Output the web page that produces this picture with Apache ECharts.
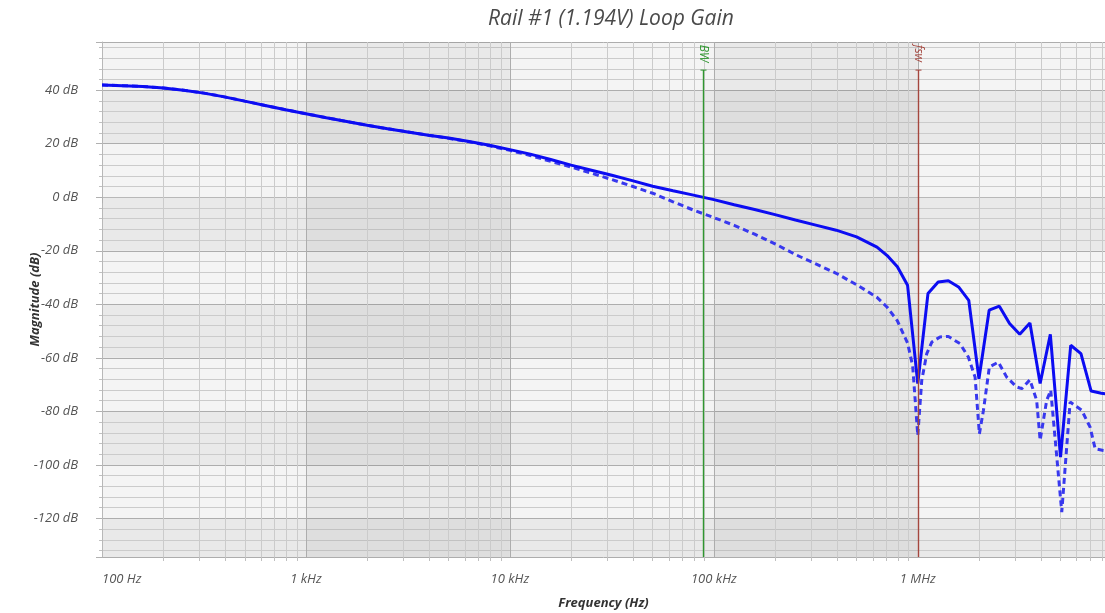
<!DOCTYPE html>
<html><head><meta charset="utf-8">
<script src="https://cdn.jsdelivr.net/npm/echarts@6/dist/echarts.min.js"></script>
<style>html,body{margin:0;padding:0;background:#fff}#c{width:1105px;height:613px}</style>
</head><body><div id="c"></div>
<script>
const chartTitle = 'Rail #1 (1.194V) Loop Gain';
const xAxisName = 'Frequency (Hz)';
const yAxisName = 'Magnitude (dB)';
const freqMin = 100, freqMax = 8280000;
const dbMin = -134.4, dbMax = 58;
const xTickLabels = {100: '100 Hz', 1000: '1 kHz', 10000: '10 kHz', 100000: '100 kHz', 1000000: '1 MHz'};

// Solid trace (loop gain)
const loopFreqs = [
  100,126,158,200,251,316,398,501,631,794,
  1000,1259,1585,1995,2512,3162,3981,5012,6310,7943,
  10000,12589,15849,19953,25119,31623,39811,50119,63096,79433,
  100000,125893,158489,199526,251189,316228,398107,501187,630957,707946,794328,891251,
  1000000,1122018,1258925,1412538,1584893,1778279,1995262,2238721,2511886,2818383,
  3162278,3548134,3981072,4466836,5011872,5623413,6309573,7079458,7943282,8912509
];
const loopGainDb = [
  41.9,41.7,41.4,40.8,40.0,38.9,37.5,35.9,34.3,32.7,
  31.2,29.7,28.3,26.9,25.6,24.4,23.2,22.1,20.8,19.4,
  17.8,16.1,14.1,12.0,10.1,8.2,6.2,4.1,2.4,0.8,
  -0.9,-2.8,-4.6,-6.5,-8.5,-10.4,-12.3,-14.8,-18.6,-21.8,-26.0,-32.9,
  -69.6,-36.0,-31.7,-31.2,-33.5,-38.5,-67.8,-42.2,-40.7,-47.2,
  -51.2,-47.0,-69.6,-51.2,-97.1,-55.3,-58.4,-72.4,-73.2,-73.8
];

// Dashed trace
const dashFreqs = [
  100,126,158,200,251,316,398,501,631,794,
  1000,1259,1585,1995,2512,3162,3981,5012,6310,7943,
  10000,12589,15849,19953,25119,31623,39811,50119,63096,79433,
  100000,125893,158489,199526,251189,316228,398107,501187,
  562341,630957,707946,794328,891251,944000,1000000,
  1046000,1107000,1172000,1285000,1413000,1611000,1770000,1910000,2005000,2099000,
  2244000,2483000,2729000,3055000,3236000,3548000,3828000,3981000,4285000,4487000,
  5082000,5585000,6368000,6998000,7413000,8128000,8913000
];
const dashDb = [
  41.9,41.7,41.4,40.8,40.0,38.9,37.5,35.9,34.3,32.7,
  31.2,29.7,28.3,26.9,25.6,24.4,23.2,22.0,20.7,19.2,
  17.5,15.6,13.4,11.3,9.0,6.6,4.1,1.5,-1.7,-4.8,
  -7.6,-10.5,-13.8,-17.4,-21.4,-24.9,-28.4,-32.7,
  -35.0,-37.4,-41.1,-46.2,-54.5,-63.0,-89.0,
  -68.4,-58.4,-54.1,-52.2,-52.0,-54.7,-59.7,-67.2,-88.4,-79.6,
  -63.4,-61.6,-67.2,-70.9,-71.5,-68.2,-75.9,-90.8,-75.9,-72.1,
  -117.6,-76.5,-79.6,-85.9,-94.0,-94.6,-95.0
];

const markerFreqs = [88500, 1000000];
const markerLabels = ['BW', 'fsw'];
const markerColors = ['#2f962f', '#a4463e'];

// minor log grid positions (2..9 per decade)
const minorFreqs = [];
[100, 1000, 10000, 100000, 1000000].forEach(d => {
  for (let m = 2; m <= 9; m++) if (d * m <= freqMax) minorFreqs.push(d * m);
});

const FONT = '"Open Sans", "Noto Sans", sans-serif';
const chart = echarts.init(document.getElementById('c'), null, {renderer: 'canvas'});

const option = {
  animation: false,
  backgroundColor: '#ffffff',
  title: {
    text: chartTitle, left: 606, top: 4, textAlign: 'center',
    textStyle: {fontFamily: FONT, fontStyle: 'italic', fontWeight: 'normal', fontSize: 21, color: '#4a4a4a'}
  },
  grid: {left: 102, right: 0, top: 42, bottom: 56, containLabel: false, outerBoundsMode: 'none',
         show: true, backgroundColor: '#f4f4f4', borderWidth: 0},
  xAxis: {
    type: 'log', logBase: 10, min: freqMin, max: freqMax,
    name: xAxisName, nameLocation: 'middle', nameGap: 40, nameMoveOverlap: false,
    nameTextStyle: {fontFamily: FONT, fontStyle: 'italic', fontWeight: 'bold', fontSize: 13, color: '#333'},
    axisLine: {show: true, lineStyle: {color: '#b8b8b8'}},
    axisTick: {show: true, length: 6, lineStyle: {color: '#b0b0b0'}},
    minorTick: {show: false},
    axisLabel: {
      margin: 16, fontFamily: FONT, fontStyle: 'italic', fontSize: 13, color: '#555',
      showMaxLabel: false, alignMinLabel: 'left',
      formatter: v => xTickLabels[Math.round(v)] || ''
    },
    splitLine: {show: true, lineStyle: {color: '#adadad', width: 1}},
    splitArea: {show: true, areaStyle: {color: ['rgba(0,0,0,0)', 'rgba(0,0,0,0.045)']}}
  },
  yAxis: {
    type: 'value', min: dbMin, max: dbMax, splitNumber: 10,
    name: yAxisName, nameLocation: 'middle', nameGap: 60, nameMoveOverlap: false,
    nameTextStyle: {fontFamily: FONT, fontStyle: 'italic', fontWeight: 'bold', fontSize: 13, color: '#333'},
    axisLine: {show: true, lineStyle: {color: '#b8b8b8'}},
    axisTick: {show: true, length: 6, lineStyle: {color: '#b0b0b0'}},
    minorTick: {show: true, splitNumber: 5, length: 3, lineStyle: {color: '#c0c0c0'}},
    minorSplitLine: {show: true, lineStyle: {color: '#cbcbcb', width: 1}},
    axisLabel: {
      margin: 24, fontFamily: FONT, fontStyle: 'italic', fontSize: 13, color: '#555',
      showMinLabel: false, showMaxLabel: false,
      formatter: v => Math.round(v) + ' dB'
    },
    splitLine: {show: true, lineStyle: {color: '#adadad', width: 1}},
    splitArea: {show: true, areaStyle: {color: ['rgba(0,0,0,0.045)', 'rgba(0,0,0,0)']}}
  },
  series: [
    {
      type: 'custom', name: 'minorGrid', z: 1, silent: true, clip: false,
      data: minorFreqs.map(f => [f, dbMin]),
      encode: {x: 0, y: 1},
      renderItem: (params, api) => {
        const f = api.value(0);
        const a = api.coord([f, dbMax]);
        const b = api.coord([f, dbMin]);
        const x = Math.round(a[0]) + 0.5;
        return {type: 'group', children: [
          {type: 'line', shape: {x1: x, y1: a[1], x2: x, y2: b[1]}, style: {stroke: '#cbcbcb', lineWidth: 1}},
          {type: 'line', shape: {x1: x, y1: b[1], x2: x, y2: b[1] + 4}, style: {stroke: '#c0c0c0', lineWidth: 1}}
        ]};
      }
    },
    {
      type: 'line', name: 'Loop Gain', z: 4,
      data: loopFreqs.map((f, i) => [f, loopGainDb[i]]),
      showSymbol: false, symbol: 'none', smooth: false, clip: true,
      lineStyle: {color: '#0c0cf2', width: 3}
    },
    {
      type: 'line', name: 'Loop Gain (dashed)', z: 3,
      data: dashFreqs.map((f, i) => [f, dashDb[i]]),
      showSymbol: false, symbol: 'none', smooth: false, clip: true,
      lineStyle: {color: '#3838ee', width: 3, type: [6, 4]}
    },
    {
      type: 'custom', name: 'markers', z: 5, silent: true, clip: false,
      data: markerFreqs.map((f, i) => [f, dbMin, i]),
      encode: {x: 0, y: 1},
      renderItem: (params, api) => {
        const f = api.value(0);
        const idx = api.value(2);
        const color = markerColors[idx];
        const top = api.coord([f, 47.5]);
        const bot = api.coord([f, dbMin]);
        const lab = api.coord([f, 57]);
        const x = Math.round(top[0]) + 0.5;
        return {type: 'group', children: [
          {type: 'line', shape: {x1: x, y1: top[1], x2: x, y2: bot[1]}, style: {stroke: color, lineWidth: 1.4}},
          {type: 'line', shape: {x1: x - 3, y1: top[1], x2: x + 3, y2: top[1]}, style: {stroke: color, lineWidth: 1}},
          {type: 'text', x: x, y: lab[1], rotation: -Math.PI / 2,
           style: {text: markerLabels[idx], fill: color, font: 'italic 12px ' + FONT, align: 'left', verticalAlign: 'middle'}}
        ]};
      }
    }
  ]
};
chart.setOption(option);
</script>
</body></html>
